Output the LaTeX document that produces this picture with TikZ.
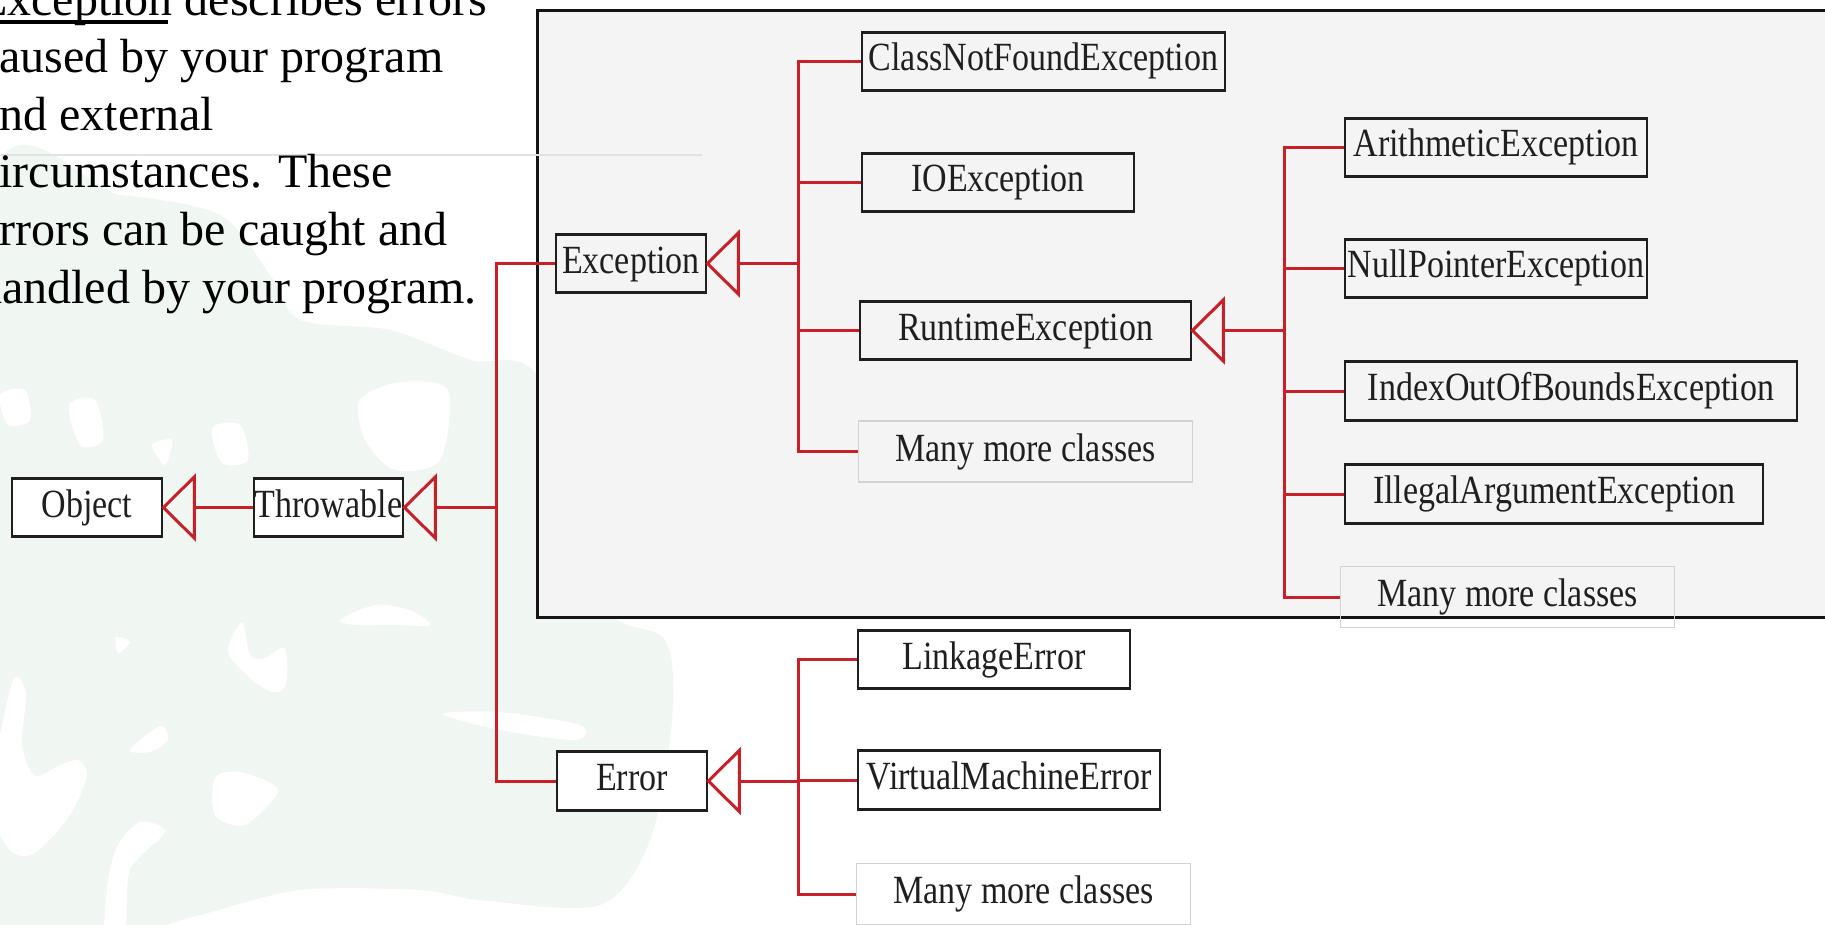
\documentclass[tikz,border=0pt]{standalone}
\usepackage{fontspec}
\setmainfont{Liberation Serif}
\newfontfamily\diagfont[FakeStretch=0.85]{Liberation Serif}
\definecolor{lred}{RGB}{200,32,40}
\definecolor{pgray}{RGB}{244,244,244}
\definecolor{wgreen}{RGB}{240,246,242}
\definecolor{mmgray}{RGB}{210,210,210}
\definecolor{hair}{RGB}{226,226,226}
\newcommand{\gentri}[1]{\draw[tri] (#1.east) -- ([xshift=31pt]#1.north east) -- ([xshift=31pt]#1.south east) -- cycle;}
\begin{document}
\begin{tikzpicture}[x=1pt,y=-1pt,
  cls/.style={draw=black!88, line width=2.8pt, fill=white, inner sep=0pt,
    minimum height=58.5pt, font=\diagfont\fontsize{40}{48}\selectfont,
    text height=27pt, text depth=8pt, text=black!88},
  inpanel/.style={fill=pgray},
  more/.style={cls, draw=mmgray, line width=1.3pt, fill=none, minimum height=61pt},
  conn/.style={draw=lred, line width=3pt},
  tri/.style={draw=lred, line width=3pt, line join=miter},
  para/.style={anchor=base west, inner sep=0pt, font=\fontsize{48}{58}\selectfont},
  blob/.style={fill=white}
]
\useasboundingbox (0,0) rectangle (1825,925);
\clip (0,0) rectangle (1825,925);
\fill[white] (0,0) rectangle (1825,925);
% watermark
\fill[wgreen] plot[smooth cycle, tension=0.5] coordinates {(-10,190) (120,195) (220,215) (270,275) (300,320) (390,330) (470,360) (540,380) (600,600) (665,640) (672,720) (650,840) (600,905) (480,900) (420,890) (300,890) (200,915) (120,935) (-10,935)};
\fill[blob] plot[smooth cycle, tension=0.5] coordinates {(12,683) (26,693) (22,745) (35,776) (60,765) (78,760) (87,775) (70,815) (35,853) (10,850) (-10,800)};
\fill[blob] plot[smooth cycle, tension=0.5] coordinates {(116,637) (130,642) (118,653)};
\fill[blob] plot[smooth cycle, tension=0.5] coordinates {(242,622) (250,655) (265,658) (285,648) (286,685) (272,692) (250,678) (228,652)};
\fill[blob] plot[smooth cycle, tension=0.5] coordinates {(130,750) (160,726) (168,740) (150,752)};
\fill[blob] plot[smooth cycle, tension=0.5] coordinates {(215,778) (240,772) (278,790) (245,825) (215,815)};
\fill[blob] plot[smooth cycle, tension=0.5] coordinates {(340,620) (375,605) (410,610) (430,625) (395,625) (355,625)};
\fill[blob] plot[smooth cycle, tension=0.5] coordinates {(140,822) (165,832) (130,870) (125,935) (105,935) (108,880) (118,845)};
\fill[blob] plot[smooth cycle, tension=0.5] coordinates {(443,714) (500,712) (580,725) (575,740) (500,730)};
\fill[blob] plot[smooth cycle, tension=0.5] coordinates {(69,405) (95,400) (103,440) (80,445)};
\fill[blob] plot[smooth cycle, tension=0.5] coordinates {(212,428) (240,425) (248,460) (222,463)};
\fill[blob] plot[smooth cycle, tension=0.5] coordinates {(152,445) (172,440) (165,465)};
\fill[blob] plot[smooth cycle, tension=0.5] coordinates {(360,400) (400,382) (448,390) (440,460) (395,470) (365,440)};
\fill[blob] plot[smooth cycle, tension=0.5] coordinates {(0,395) (25,390) (30,420) (8,425)};
% panel
\fill[pgray] (537,11) rectangle (1840,617);
\draw[line width=3pt, black!92] (537,11) rectangle (1840,617);
\draw[hair, line width=1.2pt] (0,155) -- (702,155);
% text
\node[para] (t1) at (-22,15.5) {Exception describes errors};
\node[para] (t2) at (-22,73) {caused by your program};
\node[para] (t3) at (-22,130.5) {and external};
\node[para] (t4) at (-22,188) {circumstances. These};
\node[para] (t5) at (-22,245.5) {errors can be caught and};
\node[para] (t6) at (-22,303) {handled by your program.};
\draw[line width=3.2pt] ([yshift=-6.5pt]t1.base west) -- ++(190,0);
% classes
\node[cls, minimum width=150pt] (obj) at (87,507.5) {Object};
\node[cls, minimum width=149pt] (thr) at (328.5,507.5) {Throwable};
\node[cls, inpanel, minimum width=150pt] (exc) at (631,263.5) {Exception};
\node[cls, minimum width=150pt] (err) at (632,781) {Error};
\node[cls, inpanel, minimum width=363pt] (cnf) at (1043.5,61.5) {ClassNotFoundException};
\node[cls, inpanel, minimum width=272pt] (ioe) at (998,182.5) {IOException};
\node[cls, inpanel, minimum width=331pt] (rte) at (1025.5,330.5) {RuntimeException};
\node[more, minimum width=334pt] (mm1) at (1025.5,451.5) {Many more classes};
\node[cls, inpanel, minimum width=302pt] (ari) at (1496,147.5) {ArithmeticException};
\node[cls, inpanel, minimum width=302pt] (npe) at (1496,268.5) {NullPointerException};
\node[cls, inpanel, minimum width=452pt] (ioob) at (1571,391) {IndexOutOfBoundsException};
\node[cls, inpanel, minimum width=418pt] (iae) at (1554,494) {IllegalArgumentException};
\node[more, minimum width=334pt] (mm2) at (1507.5,597) {Many more classes};
\node[cls, minimum width=272pt] (lnk) at (994,659.5) {LinkageError};
\node[cls, minimum width=302pt] (vme) at (1009,780) {VirtualMachineError};
\node[more, minimum width=334pt] (mm3) at (1023.5,894) {Many more classes};
% junctions
\coordinate (k1) at (496,507.5);
\coordinate (k2) at (798,263.5);
\coordinate (k3) at (798,781);
\coordinate (k4) at (1284,330.5);
% connectors
\draw[conn] ([xshift=31pt]obj.east) -- (thr.west);
\draw[conn] ([xshift=31pt]thr.east) -- (k1);
\draw[conn] (exc.west) -| (k1) |- (err.west);
\draw[conn] ([xshift=31pt]exc.east) -- (k2);
\draw[conn] (cnf.west) -| (k2) |- (mm1.west);
\draw[conn] (ioe.west) -- (ioe.west -| k2);
\draw[conn] (rte.west) -- (rte.west -| k2);
\draw[conn] ([xshift=31pt]rte.east) -- (k4);
\draw[conn] (ari.west) -| (k4) |- (mm2.west);
\draw[conn] (npe.west) -- (npe.west -| k4);
\draw[conn] (ioob.west) -- (ioob.west -| k4);
\draw[conn] (iae.west) -- (iae.west -| k4);
\draw[conn] ([xshift=31pt]err.east) -- (k3);
\draw[conn] (lnk.west) -| (k3) |- (mm3.west);
\draw[conn] (vme.west) -- (vme.west -| k3);
% generalization triangles
\gentri{obj}
\gentri{thr}
\gentri{exc}
\gentri{err}
\gentri{rte}
\end{tikzpicture}
\end{document}
